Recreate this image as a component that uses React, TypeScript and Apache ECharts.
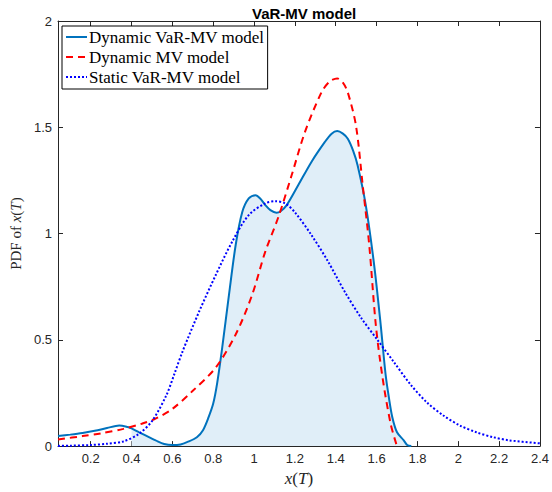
import React, { useEffect, useRef } from "react";
import * as echarts from "echarts";

// Dynamic VaR-MV model (solid)
const dynVarX = [0.04, 0.1, 0.16, 0.22, 0.28, 0.34, 0.38, 0.4, 0.437, 0.49, 0.518, 0.56, 0.6, 0.64, 0.68, 0.72, 0.75, 0.777, 0.8, 0.82, 0.845, 0.877, 0.91, 0.942, 0.974, 1.007, 1.03, 1.055, 1.08, 1.11, 1.13, 1.16, 1.216, 1.281, 1.346, 1.38, 1.407, 1.435, 1.459, 1.485, 1.507, 1.547, 1.588, 1.62, 1.644, 1.66, 1.677, 1.7, 1.733, 1.75, 1.77];
const dynVarY = [0.047, 0.054, 0.062, 0.072, 0.085, 0.097, 0.09, 0.083, 0.065, 0.04, 0.027, 0.01, 0.005, 0.008, 0.022, 0.042, 0.075, 0.135, 0.2, 0.3, 0.47, 0.71, 0.946, 1.1, 1.165, 1.18, 1.165, 1.134, 1.11, 1.098, 1.105, 1.134, 1.227, 1.337, 1.43, 1.47, 1.482, 1.47, 1.446, 1.39, 1.321, 1.134, 0.853, 0.572, 0.338, 0.23, 0.136, 0.065, 0.027, 0.005, 0];

// Dynamic MV model (dashed)
const dynMvX = [0.04, 0.16, 0.25, 0.36, 0.45, 0.52, 0.6, 0.7, 0.813, 0.91, 0.99, 1.055, 1.12, 1.184, 1.249, 1.33, 1.37, 1.407, 1.435, 1.459, 1.499, 1.532, 1.564, 1.596, 1.629, 1.669, 1.698];
const dynMvY = [0.031, 0.047, 0.06, 0.081, 0.105, 0.13, 0.175, 0.26, 0.37, 0.525, 0.71, 0.915, 1.08, 1.274, 1.477, 1.664, 1.715, 1.73, 1.71, 1.664, 1.508, 1.227, 0.946, 0.572, 0.323, 0.104, 0.005];

// Static VaR-MV model (dotted)
const staticX = [0.04, 0.1, 0.2, 0.28, 0.36, 0.437, 0.502, 0.571, 0.61, 0.651, 0.732, 0.813, 0.893, 0.974, 1.055, 1.104, 1.152, 1.2, 1.281, 1.362, 1.443, 1.524, 1.604, 1.685, 1.766, 1.846, 1.927, 2.008, 2.089, 2.17, 2.25, 2.4];
const staticY = [0.001, 0.002, 0.005, 0.011, 0.022, 0.058, 0.12, 0.24, 0.34, 0.448, 0.635, 0.806, 0.962, 1.087, 1.142, 1.152, 1.142, 1.1, 0.993, 0.869, 0.728, 0.604, 0.5, 0.395, 0.29, 0.206, 0.144, 0.097, 0.065, 0.042, 0.027, 0.013];

const xTicks = [0.2, 0.4, 0.6, 0.8, 1, 1.2, 1.4, 1.6, 1.8, 2, 2.2, 2.4];
const fillStart = 0.4;

const seriesNames = ["Dynamic VaR-MV model", "Dynamic MV model", "Static VaR-MV model"];

const zip = (xs: number[], ys: number[]) => xs.map((x, i) => [x, ys[i]]);

export default function App() {
  const ref = useRef<HTMLDivElement>(null);
  useEffect(() => {
    if (!ref.current) return;
    const chart = echarts.init(ref.current, null, { renderer: "svg" });
    const axisColor = "#262626";
    const labelFont = { color: axisColor, fontFamily: "Liberation Sans", fontSize: 13 };
    const fillData = zip(dynVarX, dynVarY).filter((p) => p[0] >= fillStart);
    chart.setOption({
      animation: false,
      backgroundColor: "#ffffff",
      title: {
        text: "VaR-MV model",
        left: 247,
        top: 1,
        textStyle: { fontFamily: "Liberation Sans", fontWeight: "bold", fontSize: 15, color: "#000" },
      },
      legend: {
        data: seriesNames,
        orient: "vertical",
        left: 62,
        top: 26,
        padding: [1, 3, 2, 3],
        itemGap: 0,
        itemWidth: 21,
        itemHeight: 14,
        borderColor: "#000",
        borderWidth: 1,
        borderRadius: 0,
        backgroundColor: "#fff",
        itemStyle: { opacity: 0, borderWidth: 0 },
        lineStyle: { width: 2 },
        textStyle: { fontFamily: "Liberation Serif", fontSize: 17, color: "#000", lineHeight: 20, padding: [0, 0, 0, -3] },
      },
      grid: { left: 57, right: 8, top: 21, bottom: 43, containLabel: false },
      xAxis: [
        {
          type: "value",
          min: 0.04,
          max: 2.4,
          position: "bottom",
          name: "{i|x}({i|T})",
          nameLocation: "middle",
          nameGap: 14,
          nameTextStyle: {
            fontFamily: "Liberation Serif",
            fontSize: 17,
            color: axisColor,
            rich: { i: { fontFamily: "Liberation Serif", fontStyle: "italic", fontSize: 17, color: axisColor } },
          },
          axisLine: { onZero: false, lineStyle: { color: axisColor, width: 1 } },
          axisTick: { inside: true, length: 5, customValues: xTicks, lineStyle: { color: axisColor } },
          axisLabel: { ...labelFont, margin: 6, customValues: xTicks, formatter: (v: number) => String(+v.toFixed(2)) },
          splitLine: { show: false },
        },
        {
          type: "value",
          min: 0.04,
          max: 2.4,
          position: "top",
          axisLine: { onZero: false, lineStyle: { color: axisColor, width: 1 } },
          axisTick: { inside: true, length: 5, customValues: xTicks, lineStyle: { color: axisColor } },
          axisLabel: { show: false },
          splitLine: { show: false },
        },
      ],
      yAxis: [
        {
          type: "value",
          min: 0,
          max: 2,
          interval: 0.5,
          position: "left",
          name: "PDF of {i|x}({i|T})",
          nameLocation: "middle",
          nameGap: 35,
          nameRotate: 90,
          nameTextStyle: {
            fontFamily: "Liberation Serif",
            fontSize: 15,
            color: axisColor,
            rich: { i: { fontFamily: "Liberation Serif", fontStyle: "italic", fontSize: 15, color: axisColor } },
          },
          axisLine: { show: true, onZero: false, lineStyle: { color: axisColor, width: 1 } },
          axisTick: { show: true, inside: true, length: 5, lineStyle: { color: axisColor } },
          axisLabel: { ...labelFont, margin: 6 },
          splitLine: { show: false },
        },
        {
          type: "value",
          min: 0,
          max: 2,
          interval: 0.5,
          position: "right",
          axisLine: { show: true, onZero: false, lineStyle: { color: axisColor, width: 1 } },
          axisTick: { show: true, inside: true, length: 5, lineStyle: { color: axisColor } },
          axisLabel: { show: false },
          splitLine: { show: false },
        },
      ],
      series: [
        {
          name: "fill",
          type: "line",
          data: fillData,
          smooth: 0.3,
          symbol: "none",
          lineStyle: { width: 0, opacity: 0 },
          areaStyle: { color: "#e0eef8", opacity: 1 },
          z: 1,
          silent: true,
        },
        {
          name: seriesNames[0],
          type: "line",
          data: zip(dynVarX, dynVarY),
          smooth: 0.3,
          symbol: "none",
          lineStyle: { color: "#0072BD", width: 2, type: "solid" },
          itemStyle: { color: "#0072BD" },
          z: 3,
        },
        {
          name: seriesNames[1],
          type: "line",
          data: zip(dynMvX, dynMvY),
          smooth: 0.3,
          symbol: "none",
          lineStyle: { color: "#ff0000", width: 2, type: [7, 5] },
          itemStyle: { color: "#ff0000" },
          z: 4,
        },
        {
          name: seriesNames[2],
          type: "line",
          data: zip(staticX, staticY),
          smooth: 0.3,
          symbol: "none",
          lineStyle: { color: "#0000ff", width: 2, type: [2, 2] },
          itemStyle: { color: "#0000ff" },
          z: 5,
        },
      ],
    });
    return () => chart.dispose();
  }, []);
  return <div ref={ref} style={{ position: "fixed", left: 0, top: 0, width: 552, height: 492 }} />;
}
